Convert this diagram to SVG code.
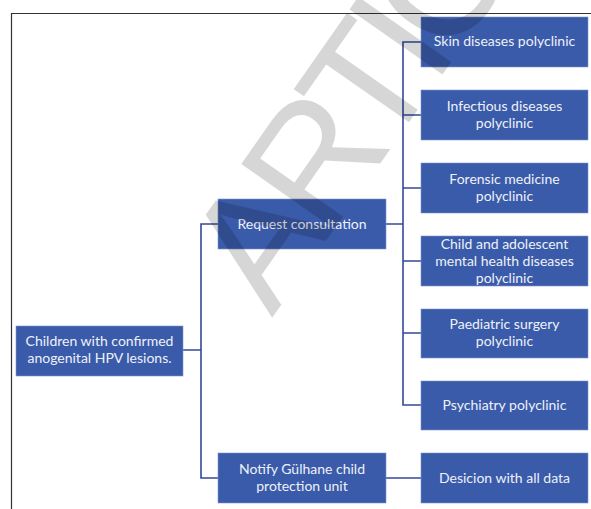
<svg xmlns="http://www.w3.org/2000/svg" width="591" height="509" viewBox="0 0 591 509">
<style>
.box{fill:#3A5BAA;stroke:#7f95c9;stroke-width:0.6}
.t{font-family:Lato,"Open Sans","Liberation Sans",sans-serif;font-size:14px;fill:#eef1f8;text-anchor:middle}
.c{fill:none;stroke:#34499a;stroke-width:1.6}
.wm{font-family:"Liberation Sans",Arial,sans-serif;font-size:165px;letter-spacing:-15px;fill:#000;fill-opacity:0.16}
</style>
<rect width="591" height="509" fill="#fff"/>
<path d="M11.5,509 V13.5 H591" fill="none" stroke="#333" stroke-width="1.2"/>
<g id="connectors">
<path class="c" d="M183,350 H201 M218,224 H201 V478 H218"/>
<path class="c" d="M386,224 H403 M421,42 H403 V405 H421 M403,115 H421 M403,188 H421 M403,261 H421 M403,333 H421"/>
<path class="c" d="M386,478 H421"/>
</g>
<g id="root"><rect class="box" x="16" y="326" width="167" height="50"/><text class="t" x="99.5" y="346">Children with confirmed</text><text class="t" x="99.5" y="363">anogenital HPV lesions.</text></g>
<g id="request"><rect class="box" x="218" y="199" width="168" height="50"/><text class="t" x="302" y="229">Request consultation</text></g>
<g id="notify"><rect class="box" x="218" y="453" width="168" height="50"/><text class="t" x="302" y="474">Notify Gülhane child</text><text class="t" x="302" y="491">protection unit</text></g>
<g id="skin"><rect class="box" x="421" y="17" width="167" height="50"/><text class="t" x="504.5" y="46">Skin diseases polyclinic</text></g>
<g id="infectious"><rect class="box" x="421" y="90" width="167" height="50"/><text class="t" x="504.5" y="111">Infectious diseases</text><text class="t" x="504.5" y="128">polyclinic</text></g>
<g id="forensic"><rect class="box" x="421" y="163" width="167" height="50"/><text class="t" x="504.5" y="184">Forensic medicine</text><text class="t" x="504.5" y="201">polyclinic</text></g>
<g id="child"><rect class="box" x="421" y="236" width="167" height="50"/><text class="t" x="504.5" y="249">Child and adolescent</text><text class="t" x="504.5" y="266">mental health diseases</text><text class="t" x="504.5" y="283">polyclinic</text></g>
<g id="paediatric"><rect class="box" x="421" y="309" width="167" height="49"/><text class="t" x="504.5" y="329">Paediatric surgery</text><text class="t" x="504.5" y="346">polyclinic</text></g>
<g id="psychiatry"><rect class="box" x="421" y="381" width="167" height="49"/><text class="t" x="504.5" y="410">Psychiatry polyclinic</text></g>
<g id="decision"><rect class="box" x="421" y="453" width="167" height="50"/><text class="t" x="504.5" y="483">Desicion with all data</text></g>
<text class="wm" transform="translate(272,318) rotate(-55)">ARTIC</text>
</svg>
